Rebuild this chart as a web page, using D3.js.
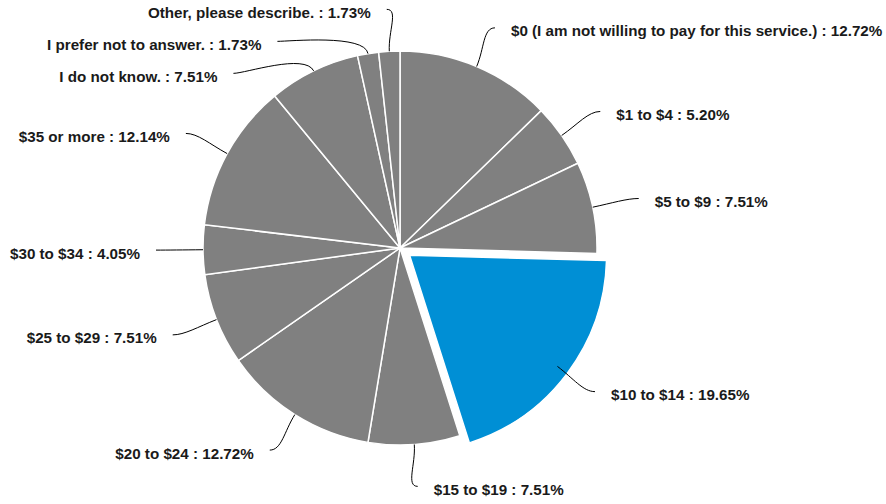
<!DOCTYPE html>
<html>
<head>
<meta charset="utf-8">
<script src="https://cdn.jsdelivr.net/npm/d3@7"></script>
<style>
  body { margin: 0; background: #fff; }
  svg { display: block; }
  text { font-family: "Liberation Sans", Arial, sans-serif; font-weight: bold; font-size: 15.2px; fill: #1a1a1a; }
</style>
</head>
<body>
<svg id="chart"></svg>
<script>
// answers, clockwise from 12 o'clock
const categories = [
  "$0 (I am not willing to pay for this service.)",
  "$1 to $4",
  "$5 to $9",
  "$10 to $14",
  "$15 to $19",
  "$20 to $24",
  "$25 to $29",
  "$30 to $34",
  "$35 or more",
  "I do not know.",
  "I prefer not to answer.",
  "Other, please describe."
]
const percents = [12.72, 5.20, 7.51, 19.65, 7.51, 12.72, 7.51, 4.05, 12.14, 7.51, 1.73, 1.73]
const highlighted = ["$10 to $14"]

const width = 886
const height = 504
const cx = 400
const cy = 248
const R = 197
const explode = 12
// labels sit on a slightly wide ellipse round the pie
const labelRx = 244
const labelRy = 239
const minGap = 32

const svg = d3.select("#chart")
  .attr("width", width)
  .attr("height", height)

const data = categories.map((c, i) => ({ name: c, value: percents[i] }))

const pie = d3.pie()
  .sort(null)
  .value(d => d.value)

const arcs = pie(data)
const arc = d3.arc().innerRadius(0).outerRadius(R)

const g = svg.append("g").attr("transform", `translate(${cx},${cy})`)

g.selectAll("path.slice")
  .data(arcs)
  .enter()
  .append("path")
  .attr("class", "slice")
  .attr("d", arc)
  .attr("fill", d => highlighted.includes(d.data.name) ? "#008fd5" : "#808080")
  .attr("stroke", "#fff")
  .attr("stroke-width", 1.5)
  .attr("transform", d => {
    if (!highlighted.includes(d.data.name)) return null
    const a = (d.startAngle + d.endAngle) / 2
    return `translate(${Math.sin(a) * explode},${-Math.cos(a) * explode})`
  })

arcs.forEach(d => {
  d.mid = (d.startAngle + d.endAngle) / 2
  d.side = Math.sin(d.mid) >= 0 ? 1 : -1
  d.x0 = Math.sin(d.mid) * R
  d.y0 = -Math.cos(d.mid) * R
  d.ex = Math.sin(d.mid) * labelRx
  d.ey = -Math.cos(d.mid) * labelRy
})

// push crowded labels down along the ellipse
function spread(list) {
  list.sort((a, b) => a.ey - b.ey)
  for (let i = 1; i < list.length; i++) {
    if (list[i].ey < list[i - 1].ey + minGap) {
      list[i].ey = list[i - 1].ey + minGap
      const t = list[i].ey / labelRy
      list[i].ex = list[i].side * labelRx * Math.sqrt(Math.max(0, 1 - t * t))
    }
  }
}
spread(arcs.filter(d => d.side > 0))
spread(arcs.filter(d => d.side < 0))

const leader = g.append("g")
  .attr("fill", "none")
  .attr("stroke", "#000")
  .attr("stroke-width", 1)

leader.selectAll("path")
  .data(arcs)
  .enter()
  .append("path")
  .attr("d", d => {
    const p = d3.path()
    const rx = Math.sin(d.mid)
    const ry = -Math.cos(d.mid)
    p.moveTo(d.x0, d.y0)
    p.bezierCurveTo(d.x0 + rx * 20, d.y0 + ry * 20, d.ex - d.side * 12, d.ey, d.ex, d.ey)
    return p.toString()
  })

g.selectAll("text.label")
  .data(arcs)
  .enter()
  .append("text")
  .attr("class", "label")
  .attr("x", d => d.ex + d.side * 16)
  .attr("y", d => d.ey + 8.5)
  .attr("text-anchor", d => d.side > 0 ? "start" : "end")
  .text(d => `${d.data.name} : ${d.data.value.toFixed(2)}%`)
</script>
</body>
</html>
